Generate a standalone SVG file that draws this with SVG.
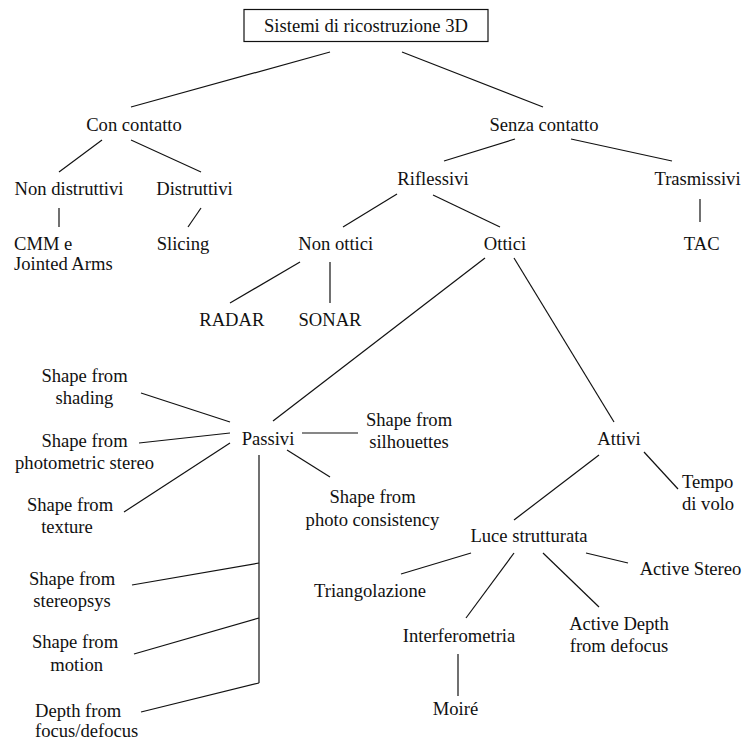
<svg xmlns="http://www.w3.org/2000/svg" width="744" height="742" viewBox="0 0 744 742">
<style>
text{font-family:"Liberation Serif","Times New Roman",serif;font-size:18.6px;fill:#111;text-anchor:middle}
.l{text-anchor:start}
#connectors line{stroke:#111;stroke-width:1.2}
.box{fill:#fff;stroke:#111;stroke-width:1.2}
</style>
<rect width="744" height="742" fill="#fff"/>
<g id="connectors">
<line x1="330" y1="52" x2="131" y2="107"/>
<line x1="402" y1="52" x2="543" y2="107"/>
<line x1="102" y1="140" x2="59" y2="172"/>
<line x1="131" y1="140" x2="201" y2="172"/>
<line x1="59" y1="208" x2="59" y2="227"/>
<line x1="201" y1="208" x2="188" y2="227"/>
<line x1="515" y1="139" x2="444" y2="161"/>
<line x1="571" y1="139" x2="672" y2="161"/>
<line x1="397" y1="194" x2="343" y2="227"/>
<line x1="433" y1="195" x2="500" y2="227"/>
<line x1="700" y1="199" x2="700" y2="222"/>
<line x1="300" y1="262" x2="230" y2="303"/>
<line x1="330" y1="262" x2="330" y2="303"/>
<line x1="485" y1="258" x2="273" y2="421"/>
<line x1="514" y1="258" x2="614" y2="422"/>
<line x1="141" y1="393" x2="230" y2="422"/>
<line x1="139" y1="443" x2="230" y2="433"/>
<line x1="124" y1="512" x2="230" y2="443"/>
<line x1="302" y1="433" x2="358" y2="433"/>
<line x1="287" y1="450" x2="330" y2="477"/>
<line x1="259" y1="455" x2="259" y2="683"/>
<line x1="132" y1="585" x2="259" y2="563"/>
<line x1="134" y1="654" x2="259" y2="618"/>
<line x1="141" y1="712" x2="259" y2="683"/>
<line x1="644" y1="452" x2="678" y2="489"/>
<line x1="599" y1="455" x2="514" y2="520"/>
<line x1="471" y1="553" x2="401" y2="574"/>
<line x1="514" y1="553" x2="466" y2="618"/>
<line x1="543" y1="553" x2="599" y2="607"/>
<line x1="586" y1="553" x2="628" y2="563"/>
<line x1="458" y1="654" x2="458" y2="696"/>
</g>
<g id="root"><rect class="box" x="244" y="9.5" width="244" height="32"/><text x="366" y="31.5">Sistemi di ricostruzione 3D</text></g>
<g id="con"><text x="134" y="130.5">Con contatto</text></g>
<g id="senza"><text x="544" y="130.5">Senza contatto</text></g>
<g id="nondist"><text x="69" y="195">Non distruttivi</text></g>
<g id="dist"><text x="194.5" y="195">Distruttivi</text></g>
<g id="rifl"><text x="433" y="185">Riflessivi</text></g>
<g id="trasm"><text x="697.5" y="185">Trasmissivi</text></g>
<g id="cmm"><text class="l" x="14" y="250">CMM e</text><text class="l" x="14" y="269.5">Jointed Arms</text></g>
<g id="slicing"><text x="183" y="250">Slicing</text></g>
<g id="nonottici"><text x="335.7" y="250">Non ottici</text></g>
<g id="ottici"><text x="505" y="250">Ottici</text></g>
<g id="tac"><text x="701.7" y="250">TAC</text></g>
<g id="radar"><text x="231.8" y="326">RADAR</text></g>
<g id="sonar"><text x="330" y="326">SONAR</text></g>
<g id="shading"><text x="84.5" y="381.5">Shape from</text><text x="84.5" y="404">shading</text></g>
<g id="photometric"><text x="84.5" y="446.7">Shape from</text><text x="84.5" y="469.3">photometric stereo</text></g>
<g id="texture"><text x="70" y="510.7">Shape from</text><text x="67" y="533.3">texture</text></g>
<g id="passivi"><text x="268" y="445">Passivi</text></g>
<g id="silhouettes"><text x="409" y="425.5">Shape from</text><text x="409" y="448">silhouettes</text></g>
<g id="photocons"><text x="372.5" y="503">Shape from</text><text x="372.5" y="526">photo consistency</text></g>
<g id="attivi"><text x="619" y="445">Attivi</text></g>
<g id="tempo"><text class="l" x="682" y="488.3">Tempo</text><text class="l" x="682" y="510">di volo</text></g>
<g id="luce"><text x="529" y="541.7">Luce strutturata</text></g>
<g id="triang"><text x="370" y="597">Triangolazione</text></g>
<g id="activestereo"><text x="690.5" y="575">Active Stereo</text></g>
<g id="interf"><text x="459" y="641.7">Interferometria</text></g>
<g id="activedepth"><text x="619" y="630">Active Depth</text><text x="619" y="652">from defocus</text></g>
<g id="moire"><text x="455.5" y="715">Moiré</text></g>
<g id="stereopsys"><text x="72" y="585">Shape from</text><text x="72" y="607.3">stereopsys</text></g>
<g id="motion"><text x="75" y="648.3">Shape from</text><text x="76.7" y="670.7">motion</text></g>
<g id="depthfocus"><text class="l" x="35" y="717.3">Depth from</text><text class="l" x="35" y="737.3">focus/defocus</text></g>
</svg>
